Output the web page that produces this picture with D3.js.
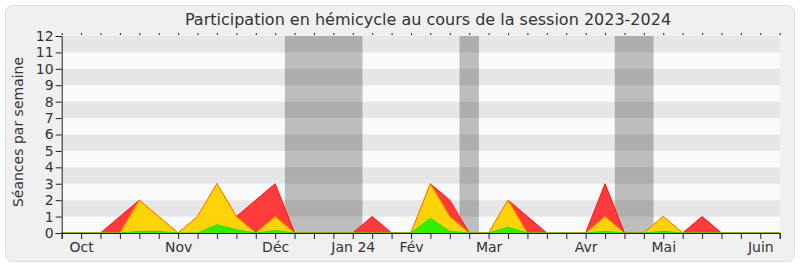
<!DOCTYPE html>
<html>
<head>
<meta charset="utf-8">
<script src="https://cdn.jsdelivr.net/npm/d3@7"></script>
<style>
body { margin: 0; background: #ffffff; }
text { font-family: "DejaVu Sans", sans-serif; fill: #333; }
</style>
</head>
<body>
<div id="chart"></div>
<script>
// weeks indexed 0..37 along the session
var weeks = d3.range(0, 38);
// total presence (red), hemicycle presence (yellow), interventions (green)
var seances   = [0,0,0,1,2,1,0,1,3,1,2,3,0,0,0,0,1,0,0,3,2,0,0,2,1,0,0,0,3,0,0,1,0,1,0,0,0,0];
var hemicycle = [0,0,0,0,2,1,0,1,3,1,0,1,0,0,0,0,0,0,0,3,1,0,0,2,0,0,0,0,1,0,0,1,0,0,0,0,0,0];
var interv    = [0,0,0,0,0.1,0.1,0,0,0.5,0.2,0,0.15,0,0,0,0,0,0,0,0.9,0.1,0,0,0.35,0,0,0,0,0.1,0,0,0.1,0,0,0,0,0,0];

var monthTicks  = [1, 6, 11, 15, 18, 22, 27, 31, 36];
var monthLabels = ["Oct", "Nov", "Déc", "Jan 24", "Fév", "Mar", "Avr", "Mai", "Juin"];

var vacStart = [11.5, 20.5, 28.5];
var vacEnd   = [15.5, 21.5, 30.5];

var yTicks = d3.range(0, 13);

var svg = d3.select("#chart")
            .append("svg")
            .attr("width", 800)
            .attr("height", 267);

svg.append("rect")
    .attr("x", 5.5).attr("y", 5.5)
    .attr("width", 789).attr("height", 256)
    .attr("rx", 7)
    .style("fill", "#f0f0f0")
    .style("stroke", "#dedede");

var x = d3.scaleLinear().domain([0, 37]).range([61.7, 779.7]);
var y = d3.scaleLinear().domain([0, 12]).range([233, 36]);

// plot background
svg.append("rect")
    .attr("x", x(0)).attr("y", y(12))
    .attr("width", x(37) - x(0)).attr("height", y(0) - y(12))
    .style("fill", "#fafafa");

// holidays
svg.selectAll("rect.vac")
    .data(vacStart)
  .enter()
    .append("rect")
    .attr("class", "vac")
    .attr("x", function(d) { return x(d); })
    .attr("y", y(12))
    .attr("width", function(d, i) { return x(vacEnd[i]) - x(d); })
    .attr("height", y(0) - y(12))
    .style("fill", "#bdbdbd");

// alternating bands
svg.selectAll("rect.band")
    .data(yTicks.filter(function(d) { return d % 2 == 1; }))
  .enter()
    .append("rect")
    .attr("class", "band")
    .attr("x", x(0))
    .attr("y", function(d) { return y(d + 1); })
    .attr("width", x(37) - x(0))
    .attr("height", function(d) { return y(d) - y(d + 1); })
    .style("fill", "rgba(0,0,0,0.08)");

function drawSeries(vals, fill, stroke) {
    var area = d3.area()
        .x(function(d, i) { return x(weeks[i]); })
        .y0(y(0))
        .y1(function(d) { return y(d); });
    var line = d3.line()
        .x(function(d, i) { return x(weeks[i]); })
        .y(function(d) { return y(d); });
    svg.append("path").datum(vals).attr("d", area).style("fill", fill);
    svg.append("path").datum(vals).attr("d", line)
        .style("fill", "none").style("stroke", stroke).style("stroke-width", 1);
}

drawSeries(seances, "#ff3c3c", "#ff1010");
drawSeries(hemicycle, "#ffd20a", "#ff8a00");
drawSeries(interv, "#33ee00", "#2fdc00");

// axes
var yAxis = d3.axisLeft(y).tickValues(yTicks).tickSize(6).tickPadding(2);
svg.append("g").attr("transform", "translate(" + x(0) + ",0)").call(yAxis);

var xAxis = d3.axisBottom(x).tickValues(weeks).tickSize(6).tickPadding(3)
    .tickFormat(function(d) {
        var k = monthTicks.indexOf(d);
        return k >= 0 ? monthLabels[k] : "";
    });
svg.append("g").attr("transform", "translate(0," + y(0) + ")").call(xAxis);

var topAxis = d3.axisTop(x).tickValues(weeks).tickSize(2).tickFormat("");
var topG = svg.append("g").attr("transform", "translate(0," + (y(12) - 1) + ")").call(topAxis);
topG.select(".domain").remove();

svg.selectAll(".tick text").style("font-size", "14px").style("fill", "#333");
svg.selectAll(".domain, .tick line").style("stroke", "#222");

svg.append("text")
    .attr("x", 428).attr("y", 25)
    .attr("text-anchor", "middle")
    .style("font-size", "16px")
    .text("Participation en hémicycle au cours de la session 2023-2024");

svg.append("text")
    .attr("transform", "translate(23,132) rotate(-90)")
    .attr("text-anchor", "middle")
    .style("font-size", "14px")
    .text("Séances par semaine");
</script>
</body>
</html>
